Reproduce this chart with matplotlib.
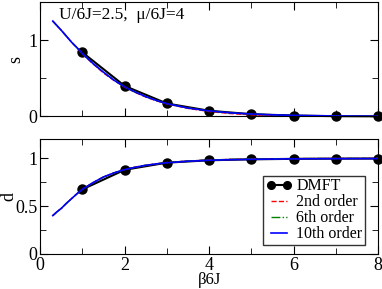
import matplotlib
matplotlib.use('Agg')
import matplotlib.pyplot as plt
from matplotlib.ticker import MultipleLocator, FormatStrFormatter

plt.rcParams['font.family'] = ['Liberation Serif', 'DejaVu Serif']

# DMFT points
beta_dmft = [1, 2, 3, 4, 5, 6, 7, 8]
s_dmft = [0.84, 0.40, 0.17, 0.075, 0.03, 0.012, 0.004, 0.002]
d_dmft = [0.675, 0.88, 0.955, 0.98, 0.99, 0.995, 0.997, 0.998]

# expansion curves
beta_fit = [0.3, 0.4, 0.5, 0.625, 0.75, 0.875, 1.0, 1.25, 1.5, 1.75, 2.0, 2.25,
            2.5, 2.75, 3.0, 3.5, 4.0, 4.5, 5.0, 5.5, 6.0, 7.0, 8.0]
s_2nd = [1.25, 1.19, 1.13, 1.05, 0.97, 0.90, 0.82, 0.69, 0.57, 0.47, 0.385, 0.315,
         0.255, 0.205, 0.165, 0.105, 0.065, 0.038, 0.022, 0.012, 0.006, 0.002, 0.0]
s_6th = [1.25, 1.19, 1.13, 1.05, 0.97, 0.90, 0.825, 0.695, 0.58, 0.475, 0.39, 0.32,
         0.26, 0.21, 0.168, 0.11, 0.072, 0.047, 0.031, 0.02, 0.013, 0.006, 0.003]
s_10th = [1.25, 1.19, 1.13, 1.05, 0.97, 0.90, 0.825, 0.695, 0.58, 0.475, 0.39, 0.32,
          0.26, 0.21, 0.168, 0.11, 0.073, 0.048, 0.032, 0.021, 0.014, 0.006, 0.003]
d_2nd = [0.40, 0.44, 0.475, 0.53, 0.58, 0.63, 0.675, 0.745, 0.805, 0.848, 0.882, 0.908,
         0.928, 0.943, 0.956, 0.972, 0.982, 0.989, 0.993, 0.996, 0.997, 0.999, 1.0]
d_6th = d_2nd
d_10th = [0.40, 0.44, 0.475, 0.53, 0.58, 0.63, 0.675, 0.745, 0.805, 0.848, 0.882, 0.907,
          0.927, 0.942, 0.954, 0.970, 0.980, 0.986, 0.990, 0.993, 0.995, 0.997, 0.998]

fig = plt.figure(figsize=(3.82, 2.89), dpi=100)
ax1 = fig.add_axes([0.105, 0.597, 0.885, 0.396])
ax2 = fig.add_axes([0.105, 0.122, 0.885, 0.396])

for ax, dm, a2, a6, a10 in [(ax1, s_dmft, s_2nd, s_6th, s_10th),
                            (ax2, d_dmft, d_2nd, d_6th, d_10th)]:
    ax.plot(beta_dmft, dm, '-o', color='black', lw=1.5, ms=6.5, label='DMFT', clip_on=False, zorder=3)
    ax.plot(beta_fit, a2, '--', color='red', lw=1.0, label='2nd order', zorder=4)
    ax.plot(beta_fit, a6, '-.', color='green', lw=1.0, label='6th order', zorder=5)
    ax.plot(beta_fit, a10, '-', color='blue', lw=1.2, label='10th order', zorder=6)
    ax.set_xlim(0, 8)
    ax.xaxis.set_major_locator(MultipleLocator(2))
    ax.xaxis.set_minor_locator(MultipleLocator(1))
    ax.yaxis.set_major_formatter(FormatStrFormatter('%g'))
    ax.tick_params(which='both', direction='in', top=True, right=True, labelsize=13, pad=2)
    ax.tick_params(which='major', length=6)
    ax.tick_params(which='minor', length=4)

ax1.set_ylim(0, 1.5)
ax1.yaxis.set_major_locator(MultipleLocator(1))
ax1.yaxis.set_minor_locator(MultipleLocator(0.5))
ax1.tick_params(axis='x', labelbottom=False)
ax1.set_ylabel('s', fontsize=13, labelpad=3)
ax1.text(0.45, 1.33, 'U/6J=2.5,  \u03bc/6J=4', fontsize=12.5, va='center')

ax2.set_ylim(0, 1.2)
ax2.yaxis.set_major_locator(MultipleLocator(0.5))
ax2.yaxis.set_minor_locator(MultipleLocator(0.25))
ax2.set_ylabel('d', fontsize=13, labelpad=-2)
ax2.set_xlabel('\u03b26J', fontsize=12, labelpad=-1)

leg = ax2.legend(loc='lower right', bbox_to_anchor=(0.96, 0.08), fontsize=11.5,
                 frameon=True, fancybox=False, edgecolor='black', handlelength=1.6,
                 numpoints=2, markerscale=0.85,
                 handletextpad=0.3, labelspacing=0.0, borderpad=0.15, borderaxespad=0)
leg.get_frame().set_linewidth(1.0)

fig.savefig('out.png', dpi=100)
